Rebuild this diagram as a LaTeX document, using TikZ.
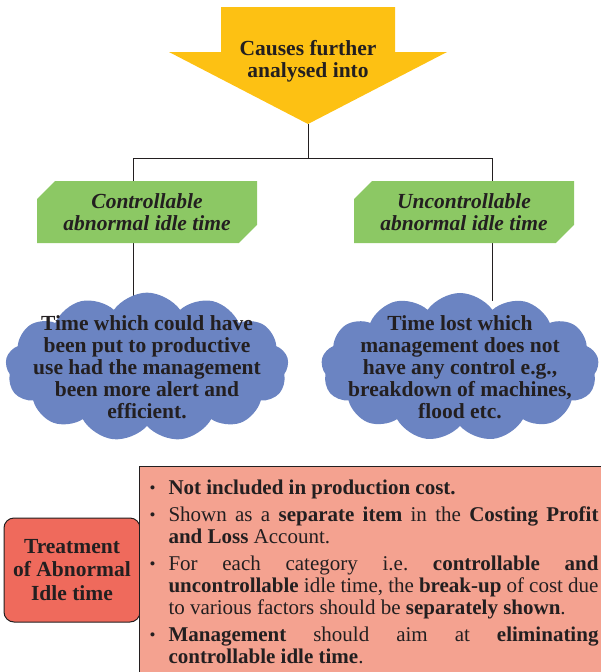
\documentclass[tikz,border=0pt]{standalone}
\usepackage{fontspec}
\setmainfont{Liberation Serif}[BoldFont={Liberation Serif Bold}, ItalicFont={Liberation Serif Italic}, BoldItalicFont={Liberation Serif Bold Italic}]
\usetikzlibrary{shapes.symbols,shapes.misc,backgrounds}
\definecolor{causeyellow}{HTML}{FDC113}
\definecolor{typegreen}{HTML}{8CC864}
\definecolor{cloudblue}{HTML}{6B84C2}
\definecolor{treatred}{HTML}{EF6A5C}
\definecolor{listpink}{HTML}{F4A290}
\definecolor{inkgray}{HTML}{231F20}
\frenchspacing
\tikzset{
  big/.style={font=\fontsize{21.5}{22}\selectfont\bfseries, text=inkgray, align=center},
  banner/.style={chamfered rectangle, chamfered rectangle corners={north west,south east},
    chamfered rectangle xsep=15pt, fill=typegreen, minimum width=220pt, minimum height=62pt,
    inner sep=0pt, big, font=\fontsize{21.5}{22}\selectfont\bfseries\itshape},
  puff/.style={cloud, cloud puffs=13, cloud puff arc=110, cloud ignores aspect, fill=cloudblue,
    inner xsep=-16pt, inner ysep=-10pt, big},
  treat/.style={rectangle, rounded corners=10pt, fill=treatred, draw=inkgray, line width=1pt,
    minimum width=136pt, minimum height=104pt, big, font=\fontsize{21.5}{23.5}\selectfont\bfseries},
  listbox/.style={rectangle, fill=listpink, draw=inkgray, line width=1pt, inner xsep=12pt,
    inner ysep=13pt, text=inkgray, font=\fontsize{21}{22}\selectfont},
  link/.style={draw=inkgray, line width=1pt}
}
\newcommand{\listdot}{\raisebox{1pt}{\fontsize{17}{17}\selectfont\textbullet}}
\begin{document}
\begin{tikzpicture}[x=1pt,y=-1pt]
\useasboundingbox (0,0) rectangle (600,672);
\fill[causeyellow] (221,7)--(395,7)--(395,52)--(447,52)--(308,124)--(169,52)--(221,52)--cycle;
\node[big] (cause) at (308,61) {Causes further\\analysed into};
\coordinate (tip) at (308,124);
\coordinate (split) at (308,158);
\coordinate (lsplit) at (133,158);
\coordinate (rsplit) at (492,158);

\node[banner] (ctrl) at (147,212) {Controllable\\abnormal idle time};
\node[banner] (unctrl) at (464,212) {Uncontrollable\\abnormal idle time};

\node[puff] (ctrlcloud) at (147,367) {Time which could have\\been put to productive\\use had the management\\been more alert and\\efficient.};
\node[puff] (unctrlcloud) at (460,367) {Time lost which\\management does not\\have any control e.g.,\\breakdown of machines,\\flood etc.};

\begin{scope}[on background layer]
\draw[link] (tip) -- (split);
\draw[link] (lsplit) -- (rsplit);
\draw[link] (lsplit) -- (lsplit |- ctrl.north);
\draw[link] (rsplit) -- (rsplit |- unctrl.north);
\draw[link] (lsplit |- ctrl.south) -- ([yshift=-8pt]lsplit |- ctrlcloud.north);
\draw[link] (rsplit |- unctrl.south) -- ([yshift=-8pt]rsplit |- unctrlcloud.north);
\end{scope}

\node[treat] (treatment) at (72,570) {Treatment\\of Abnormal\\Idle time};
\node[listbox, anchor=north west] (rules) at (139,466) {\begin{minipage}{447pt}
\begin{list}{\listdot}{\setlength{\leftmargin}{17pt}\setlength{\labelwidth}{10pt}%
\setlength{\labelsep}{13pt}\setlength{\itemsep}{5pt}\setlength{\parsep}{0pt}\setlength{\topsep}{0pt}}
\item \textbf{Not included in production cost.}
\item Shown as a \textbf{separate item} in the \textbf{Costing Profit\linebreak and Loss} Account.
\item For each category i.e. \textbf{controllable and\linebreak uncontrollable} idle time, the \textbf{break-up} of cost due\linebreak to various factors should be \textbf{separately shown}.
\item \textbf{Management} should aim at \textbf{eliminating\linebreak controllable idle time}.
\end{list}
\end{minipage}};
\end{tikzpicture}
\end{document}
